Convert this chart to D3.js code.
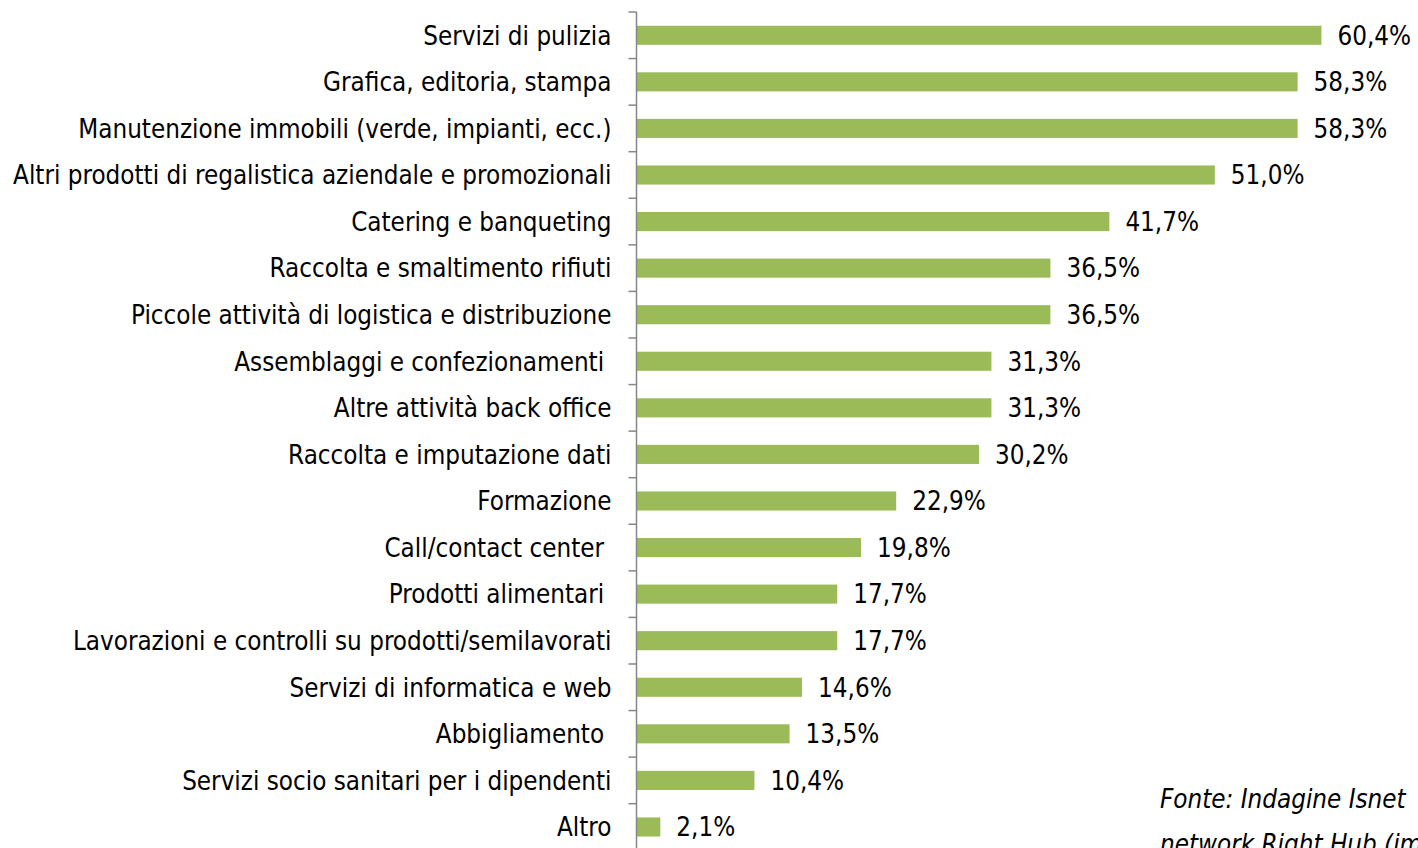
<!DOCTYPE html>
<html>
<head>
<meta charset="utf-8">
<script src="https://cdn.jsdelivr.net/npm/d3@7"></script>
<style>
  body { margin: 0; background: #fff; overflow: hidden; }
  text { white-space: pre; }
</style>
</head>
<body>
<div class="chart"></div>
<script>
// categories and values
var categories = [
  "Servizi di pulizia",
  "Grafica, editoria, stampa",
  "Manutenzione immobili (verde, impianti, ecc.)",
  "Altri prodotti di regalistica aziendale e promozionali",
  "Catering e banqueting",
  "Raccolta e smaltimento rifiuti",
  "Piccole attività di logistica e distribuzione",
  "Assemblaggi e confezionamenti ",
  "Altre attività back office",
  "Raccolta e imputazione dati",
  "Formazione",
  "Call/contact center ",
  "Prodotti alimentari ",
  "Lavorazioni e controlli su prodotti/semilavorati",
  "Servizi di informatica e web",
  "Abbigliamento ",
  "Servizi socio sanitari per i dipendenti",
  "Altro"
];
var values = [60.4, 58.3, 58.3, 51.0, 41.7, 36.5, 36.5, 31.3, 31.3, 30.2, 22.9, 19.8, 17.7, 17.7, 14.6, 13.5, 10.4, 2.1];
var sourceLines = ["Fonte: Indagine Isnet", "network Right Hub (imprese sociali)"];

var svgWidth = 1418;
var svgHeight = 848;
var axisX = 636.5;
var fontFamily = "Tahoma, 'DejaVu Sans Condensed', 'DejaVu Sans', sans-serif";

var svg = d3.select(".chart")
  .append("svg")
  .attr("width", svgWidth)
  .attr("height", svgHeight);

var data = categories.map(function(c, i) { return { cat: c, value: values[i] }; });

var yScale = d3.scaleBand()
  .domain(categories)
  .range([12, 12 + 46.57 * categories.length])
  .paddingInner(0.59)
  .paddingOuter(0.295);

var xScale = d3.scaleLinear()
  .domain([0, 70])
  .range([axisX, axisX + 70 * 11.34]);

// fit the label font to the widest label (original used Tahoma)
var probe = svg.append("text")
  .style("font-family", fontFamily)
  .style("font-size", "24px")
  .text(categories[3]);
var w = probe.node().getComputedTextLength();
probe.remove();
var fontSize = 24 * 599 / w;

// bars
svg.selectAll("rect.bar")
  .data(data)
  .enter()
  .append("rect")
  .attr("class", "bar")
  .attr("x", xScale(0))
  .attr("y", d => yScale(d.cat))
  .attr("width", d => xScale(d.value) - xScale(0))
  .attr("height", yScale.bandwidth())
  .attr("fill", "#9bbb59");

// value labels
svg.selectAll("text.value")
  .data(data)
  .enter()
  .append("text")
  .attr("class", "value")
  .attr("x", d => xScale(d.value) + 16)
  .attr("y", d => yScale(d.cat) + yScale.bandwidth() / 2)
  .attr("dy", "0.36em")
  .style("font-family", fontFamily)
  .style("font-size", fontSize + "px")
  .attr("fill", "#000")
  .text(d => d.value.toFixed(1).replace(".", ",") + "%");

// category axis
var leftAxis = d3.axisLeft(yScale).tickSize(0).tickPadding(25);
var axisG = svg.append("g")
  .attr("transform", `translate(${axisX}, 0)`)
  .call(leftAxis);
axisG.select(".domain").remove();
axisG.selectAll("text")
  .style("font-family", fontFamily)
  .style("font-size", fontSize + "px")
  .attr("fill", "#000")
  .attr("dy", "0.36em");

// axis line and tick marks at band boundaries
var step = yScale.step();
var y0 = yScale.range()[0];
svg.append("line")
  .attr("x1", axisX).attr("x2", axisX)
  .attr("y1", y0).attr("y2", svgHeight)
  .attr("stroke", "#868686")
  .attr("stroke-width", 1.5);
svg.selectAll("line.tick")
  .data(d3.range(categories.length))
  .enter()
  .append("line")
  .attr("class", "tick")
  .attr("x1", axisX - 8).attr("x2", axisX)
  .attr("y1", i => y0 + i * step)
  .attr("y2", i => y0 + i * step)
  .attr("stroke", "#868686")
  .attr("stroke-width", 1.5);

// source note (cut off at the right and bottom edges, as in the original)
svg.selectAll("text.source")
  .data(sourceLines)
  .enter()
  .append("text")
  .attr("class", "source")
  .attr("x", 1160)
  .attr("y", (d, i) => 808 + i * 45)
  .style("font-family", fontFamily)
  .style("font-style", "italic")
  .style("font-size", fontSize + "px")
  .attr("fill", "#000")
  .text(d => d);
</script>
</body>
</html>
